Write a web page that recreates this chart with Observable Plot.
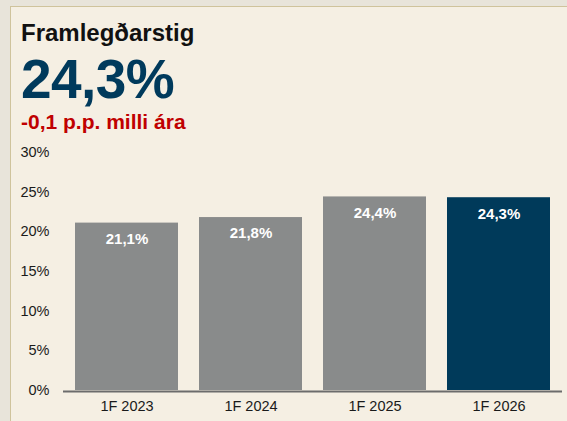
<!DOCTYPE html>
<html>
<head>
<meta charset="utf-8">
<script src="https://cdn.jsdelivr.net/npm/d3@7"></script>
<script src="https://cdn.jsdelivr.net/npm/@observablehq/plot@0.6"></script>
<style>
  html, body { margin: 0; padding: 0; }
  body { width: 567px; height: 421px; background: #e8e4da; position: relative; overflow: hidden; font-family: "Liberation Sans", Arial, sans-serif; }
  #card { position: absolute; left: 10px; top: 6px; width: 600px; height: 500px; background: #f5efe3; border: 1px solid #cfc39c; box-sizing: border-box; }
  .t { position: absolute; left: 21px; line-height: 1; font-weight: bold; white-space: nowrap; }
  #title { top: 21px; font-size: 24px; color: #111; }
  #big { top: 52px; left: 21px; font-size: 55px; color: #003a5c; letter-spacing: -0.6px; }
  #sub { top: 110.5px; font-size: 21px; color: #c00000; }
  #chart { position: absolute; left: 0; top: 140px; }
</style>
</head>
<body>
<div id="card"></div>
<div class="t" id="title">Framlegðarstig</div>
<div class="t" id="big">24,3%</div>
<div class="t" id="sub">-0,1 p.p. milli ára</div>
<div id="chart"></div>
<script>
const categories = ["1F 2023", "1F 2024", "1F 2025", "1F 2026"];
const values = [21.1, 21.8, 24.4, 24.3];
const valueLabels = ["21,1%", "21,8%", "24,4%", "24,3%"];
const yTicks = [0, 5, 10, 15, 20, 25, 30];
const highlight = "1F 2026";

const data = categories.map((c, i) => ({cat: c, value: values[i], label: valueLabels[i]}));
const grey = "#898b8b";
const blue = "#003a5a";

const chart = Plot.plot({
  width: 567,
  height: 281,
  marginLeft: 63,
  marginRight: 5,
  marginTop: 12,
  marginBottom: 31,
  style: { fontFamily: "'Liberation Sans', Arial, sans-serif", background: "transparent", color: "#1a1a1a" },
  x: { domain: categories, paddingInner: 0.168, paddingOuter: 0.084, label: null },
  y: { domain: [0, 30], label: null },
  marks: [
    Plot.barY(data, { x: "cat", y: "value", fill: d => d.cat === highlight ? blue : grey }),
    Plot.ruleY([0], { stroke: "#6c6c6c", strokeWidth: 2, dy: 1 }),
    Plot.text(data, { x: "cat", y: "value", text: "label", dy: 16, fill: "white", fontWeight: "bold", fontSize: 15 }),
    Plot.axisY({ ticks: yTicks, tickFormat: d => d + "%", tickSize: 0, tickPadding: 14, fontSize: 14.5, label: null }),
    Plot.axisX({ tickSize: 0, tickPadding: 10, fontSize: 14.5, label: null })
  ]
});
document.getElementById("chart").appendChild(chart);
</script>
</body>
</html>
